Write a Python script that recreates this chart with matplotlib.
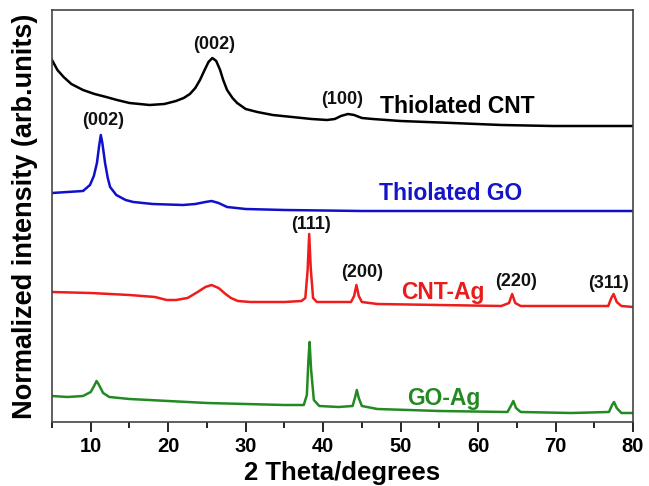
import numpy as np
import matplotlib
matplotlib.use("Agg")
import matplotlib.pyplot as plt
from matplotlib.ticker import MultipleLocator

plt.rcParams['font.family'] = ['Liberation Sans', 'DejaVu Sans']
plt.rcParams['font.weight'] = 'bold'

# XRD patterns (2theta in degrees, intensity offset in arb. units)
cnt_x = [5.0, 5.7, 6.5, 7.5, 9.0, 10.5, 12.0, 13.4, 15.0, 17.6, 19.5, 21.0, 22.0, 22.8, 23.5,
         24.1, 24.7, 25.2, 25.7, 26.2, 26.7, 27.1, 27.6, 28.3, 28.9, 30.0, 31.5, 33.5, 36.0,
         38.5, 40.5, 41.5, 42.3, 43.2, 44.0, 45.0, 46.4, 50.0, 56.7, 63.0, 69.6, 80.0]
cnt_y = [362, 352, 345, 338, 332, 328, 325, 322, 319, 317, 318, 321, 324, 328, 334,
         342, 352, 360, 364, 361, 352, 342, 332, 324, 319, 313, 310, 307, 305,
         303, 302, 303, 306, 308, 307, 304, 303, 301, 299, 297, 296, 296]

go_x = [5.0, 7.0, 9.0, 9.9, 10.4, 10.8, 11.1, 11.3, 11.5, 11.85, 12.2, 12.5, 13.3, 14.5,
        15.5, 18.0, 21.9, 23.5, 24.8, 25.6, 26.5, 27.6, 30.0, 35.0, 45.0, 60.0, 80.0]
go_y = [229, 230, 231, 237, 246, 259, 277, 287, 279, 259, 244, 235, 227, 222,
        220, 218, 217, 218, 220, 221, 219, 215, 213, 212, 211, 211, 211]

cntag_x = [5.0, 10.0, 15.0, 18.3, 19.8, 21.0, 22.5, 23.8, 24.8, 25.6, 26.5, 27.4, 28.1, 29.0,
           30.6, 35.0, 37.2, 37.7, 38.0, 38.2, 38.4, 38.7, 39.2, 41.0, 43.6, 44.0, 44.3, 44.6,
           45.0, 47.0, 55.0, 63.0, 64.0, 64.4, 64.8, 65.5, 72.0, 76.8, 77.2, 77.5, 77.9, 78.5, 80.0]
cntag_y = [130, 129, 127, 125, 122, 122, 124, 130, 135, 137, 134, 128, 124, 121,
           120, 120, 121, 124, 152, 188, 154, 124, 120, 120, 120, 126, 137, 126,
           120, 118, 117, 116, 119, 128, 119, 116, 116, 116, 124, 128, 120, 116, 115]

goag_x = [5.0, 7.0, 9.0, 10.0, 10.5, 10.75, 11.0, 11.6, 12.4, 15.0, 20.0, 25.0, 30.0, 35.0,
          37.5, 37.9, 38.1, 38.25, 38.45, 38.8, 39.5, 42.0, 43.8, 44.1, 44.35, 44.6, 45.0,
          47.0, 55.0, 63.8, 64.3, 64.55, 64.9, 65.5, 72.0, 76.9, 77.3, 77.55, 77.9, 78.5, 80.0]
goag_y = [26, 25, 26, 30, 37, 41, 38, 29, 25, 23, 21, 19, 18, 17,
          17, 27, 62, 80, 52, 22, 16, 15, 16, 24, 32, 24, 16,
          13, 11, 10, 17, 21, 14, 10, 9, 10, 17, 20, 14, 9, 9]

series = [
    (cnt_x, cnt_y, 'black'),
    (go_x, go_y, '#1010cc'),
    (cntag_x, cntag_y, '#ee1c1c'),
    (goag_x, goag_y, '#238a23'),
]

sample_labels = ['Thiolated CNT', 'Thiolated GO', 'CNT-Ag', 'GO-Ag']
sample_pos = [(57.3, 316), (56.4, 229), (55.5, 130), (55.6, 24)]
sample_colors = ['black', '#1414c8', '#e81c1c', '#238a23']

peak_labels = ['(002)', '(100)', '(002)', '(111)', '(200)', '(220)', '(311)']
peak_pos = [(25.9, 378), (42.5, 323), (11.6, 302), (38.4, 198), (45.0, 150), (64.9, 141), (76.9, 139)]

fig = plt.figure(figsize=(6.49, 4.86), dpi=100)
ax = fig.add_axes([52/649, 64/486, 581/649, 412/486])

for x, y, c in series:
    ax.plot(x, y, color=c, lw=1.8)

for txt, (px, py), c in zip(sample_labels, sample_pos, sample_colors):
    ax.text(px, py, txt, color=c, fontsize=16.5, fontweight='bold', ha='center', va='center')

for txt, (px, py) in zip(peak_labels, peak_pos):
    ax.text(px, py, txt, color='#111111', fontsize=13, fontweight='bold', ha='center', va='center')

ax.set_xlim(5, 80)
ax.set_ylim(0, 412)
ax.xaxis.set_major_locator(MultipleLocator(10))
ax.xaxis.set_minor_locator(MultipleLocator(5))
ax.set_yticks([])
ax.tick_params(axis='x', which='major', direction='out', length=7, width=1.2, labelsize=14.5, pad=3.5)
ax.tick_params(axis='x', which='minor', direction='out', length=4, width=1.2)
for lab in ax.get_xticklabels():
    lab.set_fontweight('bold')
for s in ax.spines.values():
    s.set_color('#444444')
    s.set_linewidth(1.2)

ax.set_xlabel('2 Theta/degrees', fontsize=18.5, fontweight='bold')
ax.xaxis.label.set_va('baseline')
ax.xaxis.set_label_coords(0.5, -0.141)
ax.set_ylabel('Normalized intensity (arb.units)', fontsize=19.5, fontweight='bold', labelpad=10)

fig.savefig('out.png', dpi=100)
